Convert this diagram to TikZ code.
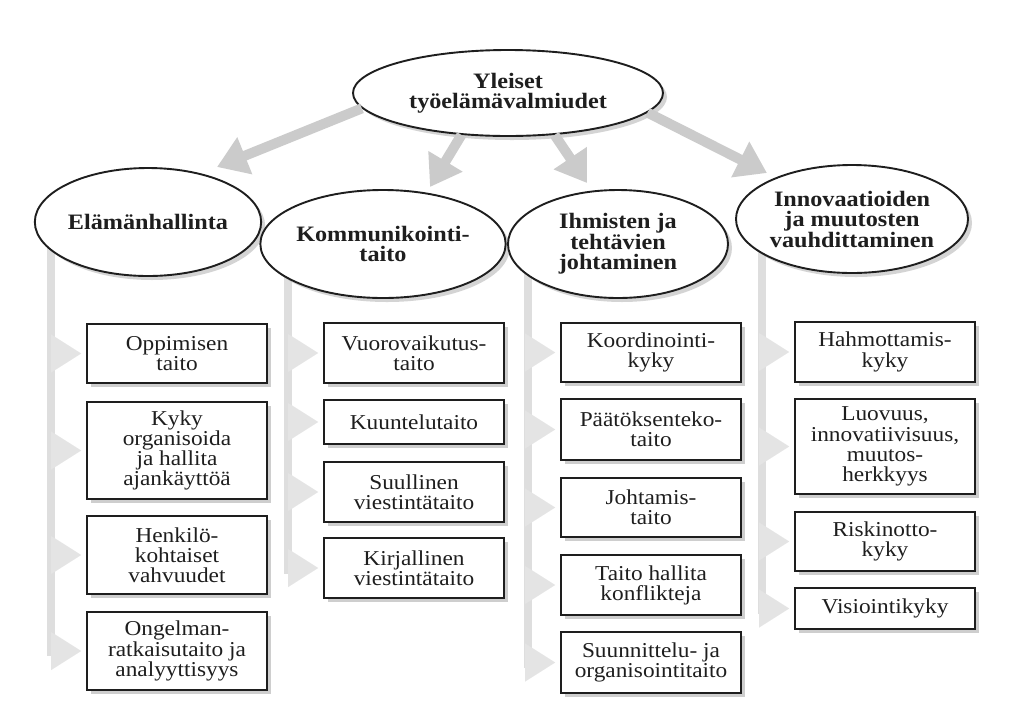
\documentclass[tikz,border=0pt]{standalone}
\usepackage{fontspec}
\setmainfont{Liberation Serif}[FakeStretch=1.1]
\usetikzlibrary{shapes.geometric,arrows.meta,shadows}
\definecolor{ink}{HTML}{1E1E1E}
\definecolor{arrowgray}{HTML}{CBCBCB}
\definecolor{bargray}{HTML}{DEDEDE}
\definecolor{tipgray}{HTML}{E4E4E4}
\begin{document}
\begin{tikzpicture}[x=1pt,y=-1pt,
  box/.style={draw=ink, line width=1.9pt, fill=white, text=ink, minimum width=180pt,
    align=center, inner sep=0pt, font=\fontsize{21.2}{20.2}\selectfont,
    drop shadow={shadow xshift=4pt, shadow yshift=-4pt, fill=black!38}},
  ell/.style={ellipse, draw=ink, line width=1.9pt, fill=white, text=ink,
    minimum width=220pt, minimum height=108pt, align=center, inner sep=0pt,
    font=\bfseries\fontsize{22}{20.5}\selectfont,
    drop shadow={shadow xshift=4pt, shadow yshift=-4pt, fill=black!33}},
  bigarrow/.style={draw=arrowgray, line width=10pt,
    -{Triangle[width=38pt,length=30pt,fill=arrowgray]}},
  bar/.style={draw=bargray, line width=8pt},
  feed/.style={draw=tipgray, line width=0.1pt, shorten >=5pt,
    -{Triangle[width=38pt,length=30pt,fill=tipgray]}}
]
\useasboundingbox (0,0) rectangle (1029,716);
\fill[white] (0,0) rectangle (1029,716);

% bars
\coordinate (b1t) at (51,222);  \coordinate (b1b) at (51,656);
\coordinate (b2t) at (288,244); \coordinate (b2b) at (288,574);
\coordinate (b3t) at (528,244); \coordinate (b3b) at (528,668);
\coordinate (b4t) at (762,219); \coordinate (b4b) at (762,614);
\draw[bar] (b1t) -- (b1b);
\draw[bar] (b2t) -- (b2b);
\draw[bar] (b3t) -- (b3b);
\draw[bar] (b4t) -- (b4b);

% ellipses
\node[ell, minimum width=310pt, minimum height=86pt] (top) at (508,93) {Yleiset\\työelämävalmiudet};
\node[ell] (e1) at (148,222) {Elämänhallinta};
\node[ell] (e2) at (383,244) {Kommunikointi-\\taito};
\node[ell] (e3) at (618,244) {Ihmisten ja\\tehtävien\\johtaminen};
\node[ell] (e4) at (852,219) {Innovaatioiden\\ja muutosten\\vauhdittaminen};

% big arrows
\coordinate (t1) at (217,167);
\coordinate (t2) at (430,187);
\coordinate (t3) at (587,183);
\coordinate (t4) at (767,173);
\draw[bigarrow] (top.186) -- (t1);
\draw[bigarrow] (top.222) -- (t2);
\draw[bigarrow] (top.318) -- (t3);
\draw[bigarrow] (top.352) -- (t4);

% column 1
\node[box, minimum height=59pt] (c1a) at (177,353.5) {Oppimisen\\taito};
\node[box, minimum height=97pt] (c1b) at (177,450.5) {Kyky\\organisoida\\ja hallita\\ajankäyttöä};
\node[box, minimum height=78pt] (c1c) at (177,555) {Henkilö-\\kohtaiset\\vahvuudet};
\node[box, minimum height=78pt] (c1d) at (177,651) {Ongelman-\\ratkaisutaito ja\\analyyttisyys};

% column 2
\node[box, minimum height=60pt] (c2a) at (414,353) {Vuorovaikutus-\\taito};
\node[box, minimum height=44pt] (c2b) at (414,422) {Kuuntelutaito};
\node[box, minimum height=60pt] (c2c) at (414,492) {Suullinen\\viestintätaito};
\node[box, minimum height=60pt] (c2d) at (414,568) {Kirjallinen\\viestintätaito};

% column 3
\node[box, minimum height=59pt] (c3a) at (651,352.5) {Koordinointi-\\kyky};
\node[box, minimum height=61pt] (c3b) at (651,429.5) {Päätöksenteko-\\taito};
\node[box, minimum height=59pt] (c3c) at (651,507.5) {Johtamis-\\taito};
\node[box, minimum height=60pt] (c3d) at (651,585) {Taito hallita\\konflikteja};
\node[box, minimum height=61pt] (c3e) at (651,662.5) {Suunnittelu- ja\\organisointitaito};

% column 4
\node[box, minimum height=60pt] (c4a) at (885,352) {Hahmottamis-\\kyky};
\node[box, minimum height=95pt] (c4b) at (885,446.5) {Luovuus,\\innovatiivisuus,\\muutos-\\herkkyys};
\node[box, minimum height=59pt] (c4c) at (885,541.5) {Riskinotto-\\kyky};
\node[box, minimum height=41pt] (c4d) at (885,608.5) {Visiointikyky};

% feed arrows
\foreach \b in {c1a,c1b,c1c,c1d} \draw[feed] (\b.west -| b1t) -- (\b.west);
\foreach \b in {c2a,c2b,c2c,c2d} \draw[feed] (\b.west -| b2t) -- (\b.west);
\foreach \b in {c3a,c3b,c3c,c3d,c3e} \draw[feed] (\b.west -| b3t) -- (\b.west);
\foreach \b in {c4a,c4b,c4c,c4d} \draw[feed] (\b.west -| b4t) -- (\b.west);
\end{tikzpicture}
\end{document}
